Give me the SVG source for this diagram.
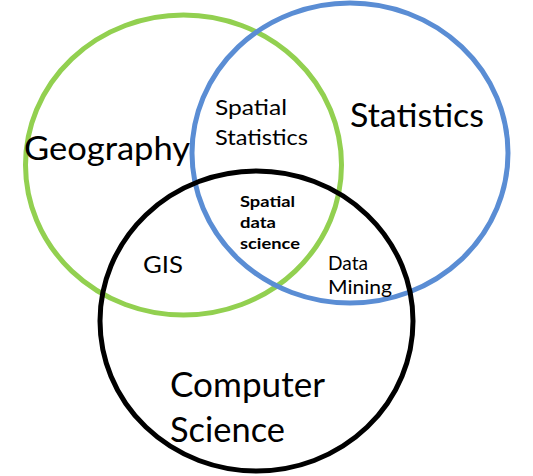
<svg xmlns="http://www.w3.org/2000/svg" width="533" height="476" viewBox="0 0 533 476">
<style>
.c{fill:none;stroke-width:5}
.t{font-family:Lato,"Open Sans","Liberation Sans",sans-serif;fill:#000}
.b{font-weight:bold}
</style>
<rect width="533" height="476" fill="#fff"/>
<g id="geography">
<ellipse class="c" cx="183.5" cy="165" rx="158" ry="150" stroke="#92D050"/>
<text class="t" x="24" y="160" font-size="33" textLength="166" lengthAdjust="spacingAndGlyphs">Geography</text>
</g>
<g id="statistics">
<ellipse class="c" cx="350" cy="153" rx="158" ry="150" stroke="#5A8DD4"/>
<text class="t" x="350" y="127" font-size="32" textLength="134" lengthAdjust="spacingAndGlyphs">Statistics</text>
</g>
<g id="computer-science">
<ellipse class="c" cx="256.5" cy="321" rx="156.5" ry="150" stroke="#000"/>
<text class="t" x="170" y="397" font-size="35" textLength="155" lengthAdjust="spacingAndGlyphs">Computer</text>
<text class="t" x="170" y="442" font-size="35" textLength="115" lengthAdjust="spacingAndGlyphs">Science</text>
</g>
<g id="spatial-statistics">
<text class="t" x="215" y="115" font-size="22" textLength="72" lengthAdjust="spacingAndGlyphs">Spatial</text>
<text class="t" x="215" y="145" font-size="22" textLength="93" lengthAdjust="spacingAndGlyphs">Statistics</text>
</g>
<g id="spatial-data-science">
<text class="t b" x="240" y="207" font-size="16" textLength="55" lengthAdjust="spacingAndGlyphs">Spatial</text>
<text class="t b" x="240" y="228" font-size="16" textLength="36" lengthAdjust="spacingAndGlyphs">data</text>
<text class="t b" x="240" y="249" font-size="16" textLength="60" lengthAdjust="spacingAndGlyphs">science</text>
</g>
<g id="gis">
<text class="t" x="143" y="273" font-size="23" textLength="40" lengthAdjust="spacingAndGlyphs">GIS</text>
</g>
<g id="data-mining">
<text class="t" x="328" y="270" font-size="20" textLength="40" lengthAdjust="spacingAndGlyphs">Data</text>
<text class="t" x="328" y="294" font-size="20" textLength="64" lengthAdjust="spacingAndGlyphs">Mining</text>
</g>
<g id="connectors"></g>
</svg>
